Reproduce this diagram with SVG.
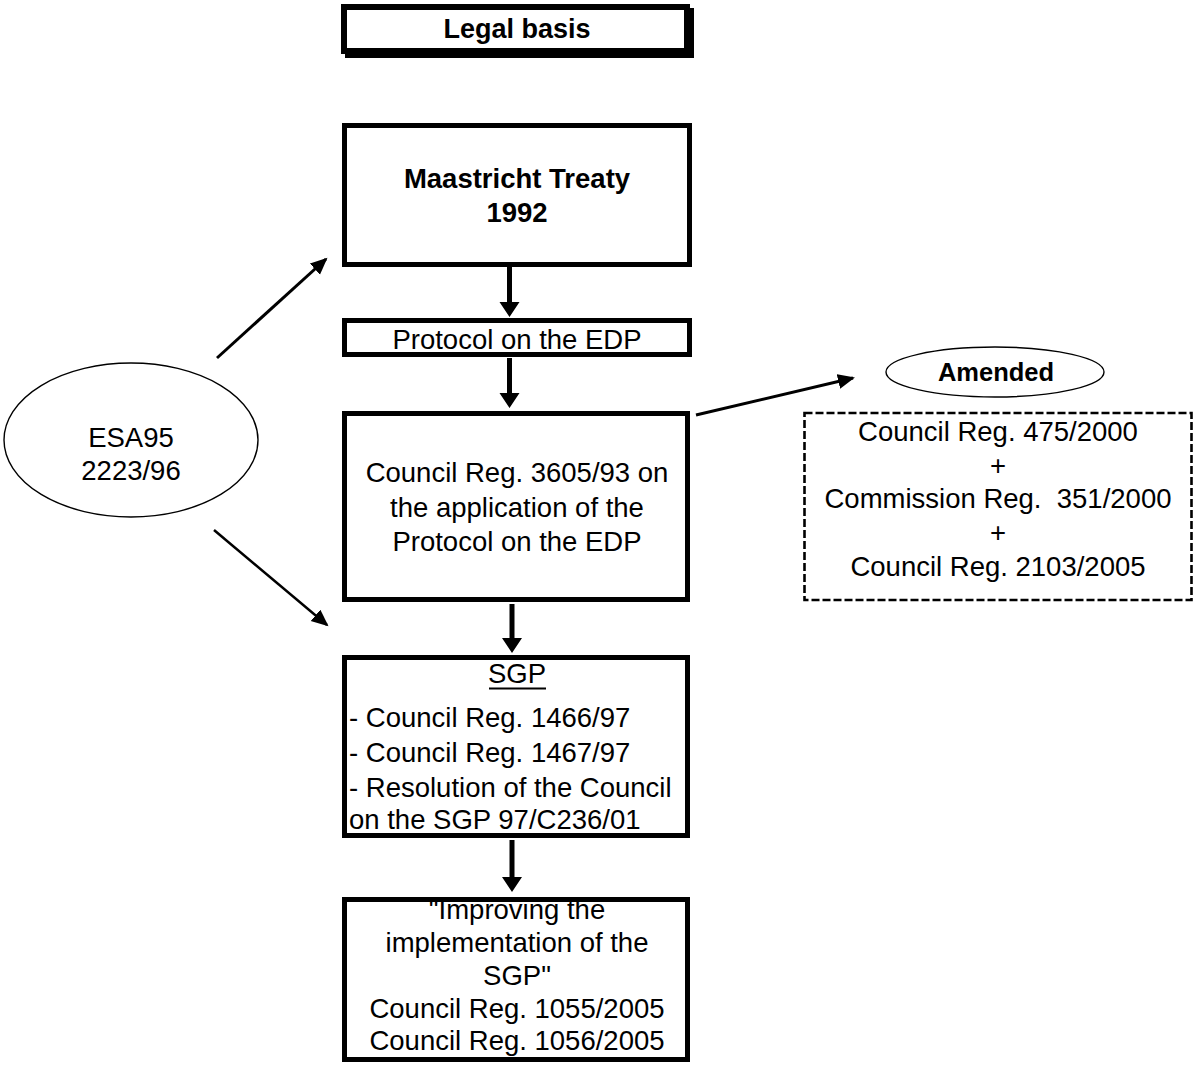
<svg xmlns="http://www.w3.org/2000/svg" width="1197" height="1068" viewBox="0 0 1197 1068">
<style>
  .box { fill: #fff; stroke: #000; stroke-width: 5; }
  .t { font-family: "Liberation Sans", Arial, sans-serif; font-size: 27.5px; fill: #000; text-anchor: middle; }
  .b { font-weight: bold; }
  .l { text-anchor: start; }
  .ell { fill: #fff; stroke: #000; stroke-width: 1.4; }
  .conn { stroke: #000; stroke-width: 3; fill: none; }
  .dash { fill: #fff; stroke: #000; stroke-width: 2.6; stroke-dasharray: 8 3; }
</style>
<defs>
  <marker id="ah" markerUnits="userSpaceOnUse" markerWidth="18" markerHeight="16" refX="15" refY="7.5" orient="auto">
    <path d="M0,0 L17,7.5 L0,15 z" fill="#000"/>
  </marker>
</defs>
<rect width="1197" height="1068" fill="#fff"/>

<g id="legal-basis">
  <rect x="345" y="8" width="349" height="50" fill="#000"/>
  <rect x="344" y="7" width="343" height="44" fill="#fff" stroke="#000" stroke-width="6"/>
  <text class="t b" x="517" y="38" style="font-size:27px">Legal basis</text>
</g>

<g id="maastricht">
  <rect class="box" x="344.5" y="125.5" width="345" height="139"/>
  <text class="t b" x="517" y="188">Maastricht Treaty</text>
  <text class="t b" x="517" y="222">1992</text>
</g>

<g id="protocol">
  <rect class="box" x="344.5" y="320.5" width="345" height="34"/>
  <text class="t" x="517" y="349">Protocol on the EDP</text>
</g>

<g id="council-3605">
  <rect class="box" x="344.5" y="413.5" width="343" height="186"/>
  <text class="t" x="517" y="482">Council Reg. 3605/93 on</text>
  <text class="t" x="517" y="517">the application of the</text>
  <text class="t" x="517" y="551">Protocol on the EDP</text>
</g>

<g id="sgp">
  <rect class="box" x="344.5" y="657.5" width="343" height="178"/>
  <text class="t" x="517" y="683">SGP</text>
  <line x1="489" y1="688.5" x2="546" y2="688.5" stroke="#000" stroke-width="2"/>
  <text class="t l" x="349" y="727">- Council Reg. 1466/97</text>
  <text class="t l" x="349" y="762">- Council Reg. 1467/97</text>
  <text class="t l" x="349" y="797">- Resolution of the Council</text>
  <text class="t l" x="349" y="829">on the SGP 97/C236/01</text>
</g>

<g id="improving">
  <rect class="box" x="344.5" y="899.5" width="343" height="160"/>
  <text class="t" x="517" y="919">"Improving the</text>
  <text class="t" x="517" y="952">implementation of the</text>
  <text class="t" x="517" y="985">SGP"</text>
  <text class="t" x="517" y="1018">Council Reg. 1055/2005</text>
  <text class="t" x="517" y="1050">Council Reg. 1056/2005</text>
</g>

<g id="esa95">
  <ellipse class="ell" cx="131" cy="440" rx="127" ry="77"/>
  <text class="t" x="131" y="447">ESA95</text>
  <text class="t" x="131" y="480">2223/96</text>
</g>

<g id="amended">
  <ellipse class="ell" cx="995" cy="372" rx="109" ry="25"/>
  <text class="t b" x="996" y="381" style="font-size:25.5px">Amended</text>
</g>

<g id="amending-regs">
  <rect class="dash" x="804.5" y="413" width="387" height="187"/>
  <text class="t" x="998" y="441">Council Reg. 475/2000</text>
  <text class="t" x="998" y="475">+</text>
  <text class="t" x="998" y="508" xml:space="preserve">Commission Reg.  351/2000</text>
  <text class="t" x="998" y="542">+</text>
  <text class="t" x="998" y="576">Council Reg. 2103/2005</text>
</g>

<g id="connectors">
  <path d="M507,267 H512 V302 H519.5 L509.5,317 L499.5,302 H507 Z" fill="#000"/>
  <path d="M507,358 H512 V393 H519.5 L509.5,408 L499.5,393 H507 Z" fill="#000"/>
  <path d="M509.5,604 H514.5 V638 H522 L512,653 L502,638 H509.5 Z" fill="#000"/>
  <path d="M509.5,840 H514.5 V877 H522 L512,892 L502,877 H509.5 Z" fill="#000"/>
  <line class="conn" x1="217" y1="358" x2="326" y2="259" marker-end="url(#ah)"/>
  <line class="conn" x1="214" y1="530" x2="327" y2="625" marker-end="url(#ah)" style="stroke-width:2.5"/>
  <line class="conn" x1="696" y1="415" x2="853" y2="378" marker-end="url(#ah)"/>
</g>
</svg>
